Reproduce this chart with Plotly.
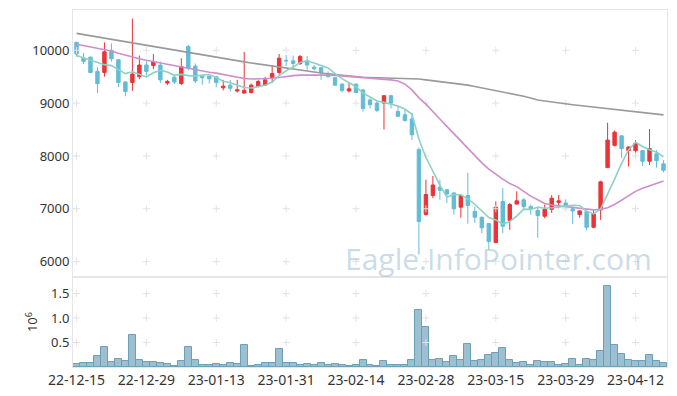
import plotly.graph_objects as go
import pandas as pd

dates = [
    "22-12-15", "22-12-16", "22-12-19", "22-12-20", "22-12-21", "22-12-22", "22-12-23", "22-12-26", "22-12-27", "22-12-28",
    "22-12-29", "23-01-02", "23-01-03", "23-01-04", "23-01-05", "23-01-06", "23-01-09", "23-01-10", "23-01-11", "23-01-12",
    "23-01-13", "23-01-16", "23-01-17", "23-01-18", "23-01-19", "23-01-20", "23-01-25", "23-01-26", "23-01-27", "23-01-30",
    "23-01-31", "23-02-01", "23-02-02", "23-02-03", "23-02-06", "23-02-07", "23-02-08", "23-02-09", "23-02-10", "23-02-13",
    "23-02-14", "23-02-15", "23-02-16", "23-02-17", "23-02-20", "23-02-21", "23-02-22", "23-02-23", "23-02-24", "23-02-27",
    "23-02-28", "23-03-02", "23-03-03", "23-03-06", "23-03-07", "23-03-08", "23-03-09", "23-03-10", "23-03-13", "23-03-14",
    "23-03-15", "23-03-16", "23-03-17", "23-03-20", "23-03-21", "23-03-22", "23-03-23", "23-03-24", "23-03-27", "23-03-28",
    "23-03-29", "23-03-30", "23-03-31", "23-04-03", "23-04-04", "23-04-05", "23-04-06", "23-04-07", "23-04-10", "23-04-11",
    "23-04-12", "23-04-13", "23-04-14", "23-04-17", "23-04-18",
]

open_ = [
    10150, 9850, 9870, 9600, 9580, 10000, 9820, 9400, 9390, 9500,
    9720, 9710, 9720, 9380, 9490, 9370, 10070, 9700, 9510, 9510,
    9500, 9290, 9340, 9230, 9190, 9200, 9320, 9340, 9480, 9580,
    9810, 9800, 9750, 9800, 9680, 9670, 9560, 9480, 9360, 9230,
    9360, 9250, 9060, 9000, 9000, 9140, 8840, 8780, 8700, 8120,
    6890, 7250, 7410, 7360, 7300, 7030, 7250, 6950, 6840, 6720,
    6360, 7140, 6780, 7090, 7170, 7040, 6970, 6860, 6990, 7120,
    7110, 7000, 6890, 6950, 6650, 6980, 7780, 8200, 8380, 8100,
    8100, 8100, 7900, 8040, 7850,
]
high = [
    10160, 9950, 9880, 9680, 10150, 10130, 9830, 9410, 10600, 9900,
    9800, 9930, 9785, 9440, 9510, 9850, 10100, 9750, 9520, 9520,
    9510, 9440, 9440, 9440, 9970, 9370, 9440, 9500, 9720, 9930,
    9910, 9900, 9910, 9890, 9720, 9680, 9600, 9480, 9370, 9400,
    9370, 9260, 9090, 9050, 9150, 9160, 8960, 8870, 8810, 8160,
    7550, 7620, 7550, 7370, 7310, 7260, 7680, 7040, 6850, 6730,
    7140, 7390, 7110, 7330, 7200, 7080, 7040, 7080, 7260, 7260,
    7180, 7040, 6970, 6960, 6980, 7530, 8630, 8480, 8390, 8180,
    8300, 8110, 8510, 8110, 7920,
]
low = [
    9880, 9740, 9570, 9190, 9500, 9785, 9300, 9130, 9230, 9450,
    9520, 9640, 9380, 9340, 9360, 9340, 9620, 9380, 9350, 9370,
    9300, 9240, 9220, 9200, 9180, 9180, 9300, 9330, 9380, 9540,
    9700, 9660, 9720, 9630, 9620, 9440, 9480, 9340, 9200, 9200,
    9190, 8840, 8900, 8830, 8500, 8900, 8740, 8650, 8300, 6130,
    6870, 7200, 7170, 7110, 6890, 6830, 6720, 6730, 6540, 6230,
    6360, 6540, 6600, 7080, 7000, 6890, 6450, 6820, 6920, 7010,
    6980, 6710, 6830, 6590, 6630, 6790, 7770, 8180, 7960, 7800,
    7990, 7810, 7830, 7780, 7690,
]
close = [
    9930, 9790, 9580, 9370, 9970, 9840, 9390, 9220, 9550, 9720,
    9600, 9780, 9440, 9410, 9400, 9690, 9660, 9420, 9480, 9460,
    9390, 9320, 9280, 9250, 9240, 9340, 9410, 9440, 9560, 9850,
    9800, 9750, 9880, 9720, 9650, 9580, 9500, 9340, 9240, 9270,
    9200, 8900, 8970, 8860, 9140, 9000, 8750, 8670, 8400, 6760,
    7270, 7450, 7350, 7280, 7000, 7250, 7060, 6840, 6640, 6380,
    7030, 6670, 7080, 7150, 7040, 7000, 6870, 6990, 7200, 7150,
    7040, 6960, 6960, 6650, 6900, 7510, 8300, 8450, 8140, 8170,
    8240, 7900, 8140, 7910, 7730,
]
volume = [
    54000, 75000, 75000, 218000, 400000, 100000, 156000, 116000, 646000, 143000,
    100000, 100000, 75000, 54000, 14000, 116000, 400000, 143000, 40000, 40000,
    54000, 40000, 75000, 60000, 440000, 14000, 40000, 75000, 75000, 360000,
    75000, 75000, 40000, 54000, 40000, 75000, 40000, 68000, 34000, 14000,
    48000, 136000, 34000, 14000, 116000, 34000, 34000, 34000, 136000, 1156000,
    810000, 136000, 156000, 95000, 218000, 136000, 463000, 116000, 136000, 238000,
    279000, 381000, 136000, 75000, 95000, 34000, 116000, 95000, 95000, 34000,
    54000, 156000, 34000, 156000, 136000, 320000, 1646000, 442000, 259000, 136000,
    116000, 116000, 238000, 116000, 75000,
]
# first four 5-day averages (they need earlier closes)
ma5_start = [9900, 9860, 9810, 9770]
ma20 = [
    10113, 10090, 10065, 10040, 10010, 9985, 9945, 9905, 9870, 9840,
    9810, 9785, 9755, 9725, 9700, 9680, 9650, 9625, 9600, 9585,
    9568, 9540, 9515, 9490, 9465, 9455, 9458, 9465, 9470, 9485,
    9505, 9520, 9530, 9533, 9535, 9535, 9530, 9525, 9515, 9505,
    9490, 9475, 9465, 9455, 9445, 9440, 9420, 9360, 9250, 9100,
    8980, 8850, 8700, 8560, 8420, 8280, 8140, 8010, 7870, 7750,
    7650, 7560, 7480, 7420, 7330, 7240, 7170, 7100, 7070, 7055,
    7040, 7020, 7000, 6985, 6980, 6990, 7020, 7080, 7160, 7250,
    7330, 7390, 7440, 7490, 7525,
]
ma60 = [
    10320, 10297, 10274, 10251, 10228, 10205, 10182, 10159, 10136, 10113,
    10090, 10067, 10044, 10021, 9998, 9975, 9952, 9929, 9906, 9883,
    9860, 9840, 9820, 9800, 9780, 9760, 9740, 9720, 9700, 9685,
    9665, 9645, 9625, 9605, 9590, 9570, 9555, 9540, 9525, 9510,
    9500, 9490, 9485, 9480, 9478, 9476, 9474, 9472, 9468, 9455,
    9440, 9425, 9410, 9395, 9380, 9360, 9340, 9315, 9290, 9265,
    9240, 9215, 9190, 9165, 9130, 9095, 9060, 9040, 9020, 9000,
    8985, 8970, 8955, 8940, 8925, 8915, 8905, 8890, 8875, 8860,
    8840, 8825, 8810, 8795, 8777,
]
price_ticks = [6000, 7000, 8000, 9000, 10000]
price_ticktext = ["6000", "7000", "8000", "9000", "10000"]
vol_ticks = [0.5, 1.0, 1.5]
vol_ticktext = ["0.5", "1.0", "1.5"]

ma5 = pd.Series(close).rolling(5).mean()
ma5[:4] = ma5_start
vol_m = [v / 1e6 for v in volume]
xticks = dates[::10]
n = len(dates)

UP = "#ea3339"
DOWN = "#62bcd6"
FRAME = "#e6e6e6"
GRIDMARK = "#e2e2e2"

fig = go.Figure()

# grid cross marks
fig.add_trace(go.Scatter(
    x=[d for d in xticks for _ in price_ticks], y=[p for _ in xticks for p in price_ticks],
    mode="markers", marker=dict(symbol="cross-thin", size=5, line=dict(color=GRIDMARK, width=1)),
    hoverinfo="skip", showlegend=False, xaxis="x", yaxis="y"))
fig.add_trace(go.Scatter(
    x=[d for d in xticks for _ in vol_ticks], y=[v for _ in xticks for v in vol_ticks],
    mode="markers", marker=dict(symbol="cross-thin", size=5, line=dict(color=GRIDMARK, width=1)),
    hoverinfo="skip", showlegend=False, xaxis="x2", yaxis="y2"))

fig.add_trace(go.Scatter(x=dates, y=ma60, mode="lines", line=dict(color="#9a9a9a", width=1.6),
                         showlegend=False, xaxis="x", yaxis="y"))
fig.add_trace(go.Scatter(x=dates, y=ma20, mode="lines", line=dict(color="#cf8ecb", width=1.6),
                         showlegend=False, xaxis="x", yaxis="y"))

fig.add_trace(go.Candlestick(
    x=dates, open=open_, high=high, low=low, close=close,
    increasing=dict(line=dict(color=UP, width=1), fillcolor=UP),
    decreasing=dict(line=dict(color=DOWN, width=1), fillcolor=DOWN),
    whiskerwidth=0, showlegend=False, xaxis="x", yaxis="y"))

fig.add_trace(go.Scatter(x=dates, y=ma5, mode="lines", line=dict(color="#8ed0c3", width=1.6),
                         showlegend=False, xaxis="x", yaxis="y"))

fig.add_trace(go.Bar(x=dates, y=vol_m, marker=dict(color="#9cc0d1", line=dict(color="#6b9fb6", width=1)),
                     showlegend=False, xaxis="x2", yaxis="y2"))

axis_common = dict(showline=True, mirror=True, linecolor=FRAME, linewidth=1, showgrid=False,
                   zeroline=False, ticks="", automargin=False)
yfont = dict(family="Noto Sans", size=13, color="#333333")
xfont = dict(family="Noto Sans", size=14, color="#333333")

# the page body has an 8px margin, so the figure is sized/offset to compensate
fig.update_layout(
    template="none",
    width=669, height=388,
    margin=dict(l=65, r=10, t=2, b=29),
    paper_bgcolor="white", plot_bgcolor="white",
    bargap=0,
    xaxis=dict(type="category", categoryorder="array", categoryarray=dates, domain=[0, 1],
               range=[-0.5, n - 0.5], anchor="y", showticklabels=False,
               rangeslider=dict(visible=False), tickvals=xticks, **axis_common),
    yaxis=dict(domain=[0.253, 1], range=[5715, 10762], tickvals=price_ticks, ticktext=price_ticktext,
               anchor="x", tickfont=yfont, **axis_common),
    xaxis2=dict(type="category", categoryorder="array", categoryarray=dates, domain=[0, 1],
                range=[-0.5, n - 0.5], anchor="y2", tickvals=xticks, ticktext=xticks, tickfont=xfont,
                **axis_common),
    yaxis2=dict(domain=[0, 0.252], range=[0, 1.837], tickvals=vol_ticks, ticktext=vol_ticktext, anchor="x2",
                tickfont=yfont,
                title=dict(text="10<sup>6</sup>", font=dict(family="Noto Sans", size=13, color="#333333"), standoff=10),
                **axis_common),
    annotations=[dict(text="Eagle.InfoPointer.com", xref="paper", yref="paper", x=0.978, y=0.305,
                      xanchor="right", yanchor="middle", showarrow=False,
                      font=dict(family="Open Sans", size=30, color="rgba(150,185,208,0.5)"))],
)

fig.write_html("out.html")
